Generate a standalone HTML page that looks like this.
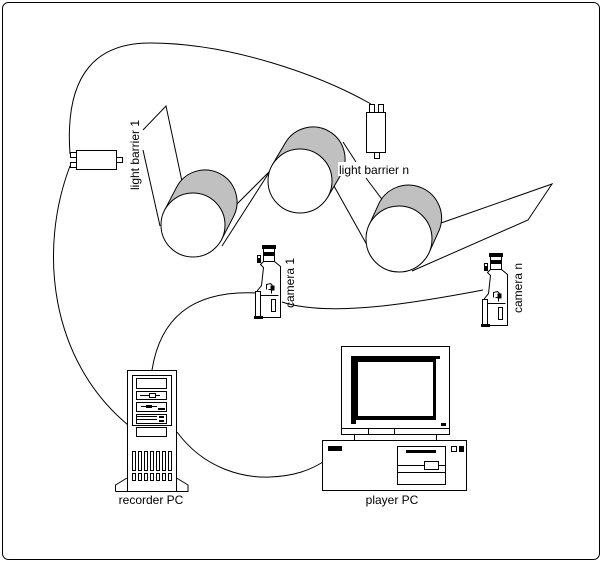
<!DOCTYPE html>
<html><head><meta charset="utf-8"><style>
html,body{margin:0;padding:0;background:#fff;}
svg{display:block;}
text{font-family:"Liberation Sans",sans-serif;font-size:12px;fill:#000;}
</style></head><body>
<svg width="603" height="563" viewBox="0 0 603 563" xmlns="http://www.w3.org/2000/svg">
<defs>
<g id="cam" fill="none" stroke="#000" stroke-width="1">
  <rect x="7" y="0" width="13" height="3" fill="#000"/>
  <rect x="8" y="3" width="11" height="4" fill="#fff"/>
  <rect x="8" y="7" width="11" height="3" fill="#000"/>
  <rect x="8" y="10" width="11" height="6" fill="#fff"/>
  <rect x="2" y="10" width="3" height="7" fill="#fff"/>
  <rect x="2" y="13" width="3" height="3" fill="#000"/>
  <path d="M19,16 L25,21 L25,72 L5,72 M8,16 L5,19 L8,22 L6,40 L2,45 L2,72" />
  <path d="M5,50 L23,50 M5,50 L5,72"/>
  <rect x="0" y="46" width="5" height="26" fill="#fff"/>
  <path d="M11,44 L11,39 L15,38 L17,40 M13,44 L16,44 L16,48" />
  <rect x="15" y="40" width="4" height="5" fill="#000" stroke="none"/>
  <rect x="16" y="54" width="4" height="12" fill="#fff"/>
  <rect x="-1" y="71" width="8" height="2" fill="#000"/>
</g>
</defs>
<rect x="2.5" y="2.5" width="597" height="557" rx="6" fill="#fff" stroke="#000" stroke-width="1"/>

<!-- cables -->
<g fill="none" stroke="#000" stroke-width="1">
  <path d="M70,154 C64,70 100,43 150,43 C230,43 320,75 371,104"/>
  <path d="M70,166 C38,250 50,360 128,425"/>
  <path d="M257,293 C190,290 160,320 152,370"/>
  <path d="M282,302 C330,318 420,302 483,290"/>
  <path d="M177,432 C205,470 245,478 270,477 C295,476 310,470 323,462"/>
</g>

<!-- film -->
<g fill="none" stroke="#000" stroke-width="1">
  <path d="M143,130 L166,106 L183,186"/>
  <path d="M143,150 L160,226"/>
  <path d="M222,246 L272,168"/>
  <path d="M236,205 L278,163"/>
  <path d="M343,142 L356,162"/>
  <path d="M366,178 L384,202"/>
  <path d="M334,186 L367,245"/>
  <path d="M412,271 L528,220 L552,184 L441,223"/>
</g>

<!-- rollers -->
<g stroke="#000" stroke-width="1">
  <path d="M164.6,210.2 L176.6,187.2 A32,32 0 0 1 233.4,216.8 L221.4,239.8 Z" fill="#c0c0c0"/>
  <circle cx="193" cy="225" r="32" fill="#fff"/>

  <path d="M272.4,164.7 L285.4,142.7 A32,32 0 0 1 340.6,175.3 L327.6,197.3 Z" fill="#c0c0c0"/>
  <circle cx="300" cy="181" r="32" fill="#fff"/>

  <path d="M369,225.3 L379,203.3 A33,33 0 0 1 439,230.7 L429,252.7 Z" fill="#c0c0c0"/>
  <circle cx="399" cy="239" r="33" fill="#fff"/>
</g>

<!-- light barrier 1 -->
<g fill="#fff" stroke="#000" stroke-width="1">
  <rect x="76.5" y="150.5" width="40" height="19"/>
  <rect x="70.5" y="152.5" width="6" height="5"/>
  <rect x="70.5" y="162.5" width="6" height="5"/>
  <rect x="116.5" y="157.5" width="6" height="5"/>
</g>
<!-- light barrier n -->
<g fill="#fff" stroke="#000" stroke-width="1">
  <rect x="366.5" y="112.5" width="19" height="40"/>
  <rect x="369.5" y="104.5" width="5" height="8"/>
  <rect x="378.5" y="104.5" width="5" height="8"/>
  <rect x="374.5" y="152.5" width="5" height="6"/>
</g>

<text transform="translate(139,155) rotate(-90)" text-anchor="middle">light barrier 1</text>
<rect x="338" y="162" width="104" height="14" fill="#fff"/>
<text x="339" y="174">light barrier n</text>

<use href="#cam" x="255.5" y="245.5"/>
<use href="#cam" x="482.5" y="253.5"/>
<text transform="translate(294,283) rotate(-90)" text-anchor="middle">camera 1</text>
<text transform="translate(522,288) rotate(-90)" text-anchor="middle">camera n</text>

<!-- recorder PC -->
<g fill="#fff" stroke="#000" stroke-width="1">
  <path d="M115.5,491.5 L115.5,485 L127,478 M176.5,478 L188,485 L188,491.5 L115.5,491.5"/>
  <rect x="127.5" y="370.5" width="49" height="121"/>
  <rect x="132.5" y="375.5" width="39" height="50"/>
  <rect x="136.5" y="378.5" width="30" height="10"/>
  <rect x="136.5" y="391.5" width="30" height="8"/>
  <line x1="140" y1="395.5" x2="160" y2="395.5"/>
  <rect x="149.5" y="393.5" width="6" height="4"/>
  <rect x="136.5" y="402.5" width="30" height="9"/>
  <line x1="141" y1="406.5" x2="157" y2="406.5"/>
  <rect x="136.5" y="414.5" width="30" height="9"/>
  <rect x="136.5" y="427.5" width="30" height="9"/>
  <rect x="132.5" y="451.5" width="3" height="19"/><rect x="138.5" y="451.5" width="3" height="19"/><rect x="144.5" y="451.5" width="3" height="19"/><rect x="150.5" y="451.5" width="3" height="19"/><rect x="156.5" y="451.5" width="3" height="19"/><rect x="162.5" y="451.5" width="3" height="19"/><rect x="168.5" y="451.5" width="3" height="19"/>
  <rect x="132.5" y="473.5" width="3" height="7"/><rect x="138.5" y="473.5" width="3" height="7"/><rect x="144.5" y="473.5" width="3" height="7"/><rect x="150.5" y="473.5" width="3" height="7"/><rect x="156.5" y="473.5" width="3" height="7"/><rect x="162.5" y="473.5" width="3" height="7"/><rect x="168.5" y="473.5" width="3" height="7"/>
</g>
<g fill="#000"><rect x="137" y="416" width="20" height="1"/><rect x="137" y="419" width="20" height="1"/><rect x="159" y="416" width="5" height="2"/><rect x="159" y="420" width="5" height="2"/><rect x="158" y="408" width="7" height="2"/><rect x="146" y="405" width="6" height="3"/></g>
<text x="151" y="504" text-anchor="middle">recorder PC</text>

<!-- player PC -->
<g fill="#fff" stroke="#000" stroke-width="1">
  <rect x="341.5" y="346.5" width="108" height="82"/>
  <rect x="341.5" y="428.5" width="108" height="6"/>
  <line x1="368.5" y1="428.5" x2="368.5" y2="434.5"/>
  <line x1="394.5" y1="428.5" x2="394.5" y2="434.5"/>
  <rect x="354.5" y="434.5" width="82" height="6"/>
  <rect x="322.5" y="440.5" width="144" height="50"/>
  <rect x="397.5" y="446.5" width="48" height="38"/>
  <line x1="397.5" y1="465.5" x2="445.5" y2="465.5"/>
  <line x1="397.5" y1="472.5" x2="445.5" y2="472.5"/>
  <rect x="424.5" y="461.5" width="14" height="8"/>
  <rect x="451.5" y="446.5" width="5" height="5"/>
</g>
<g fill="#000">
  <path d="M351,356 L440,356 L440,359 L436,359 L436,420 L356,420 L356,424 L351,424 Z M358,362 L358,416 L433,416 L433,362 Z" fill-rule="evenodd"/>
  <rect x="441" y="423" width="5" height="3"/>
  <rect x="328" y="446" width="14" height="5"/>
  <rect x="406" y="450" width="30" height="3"/>
  <rect x="459" y="446" width="5" height="3"/><rect x="459" y="449" width="5" height="3"/>
</g>
<text x="392" y="504" text-anchor="middle">player PC</text>
</svg>
</body></html>
